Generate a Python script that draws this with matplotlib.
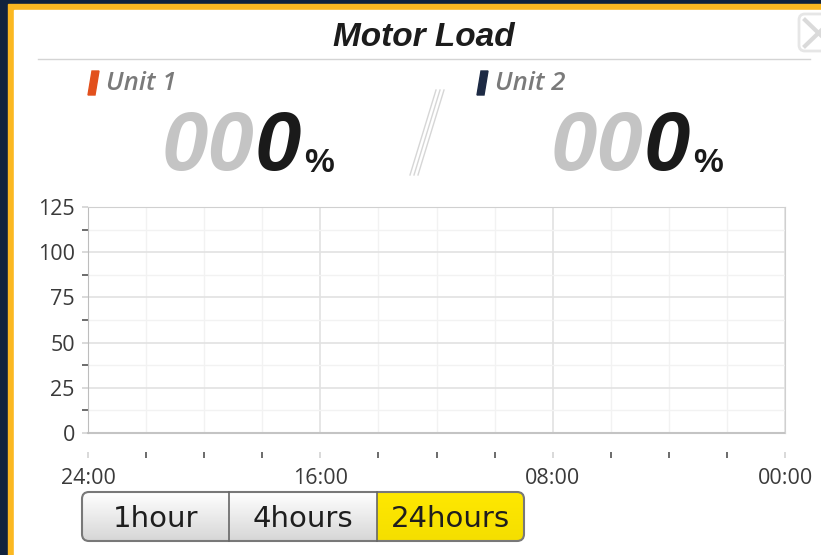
import numpy as np
import matplotlib
matplotlib.use("Agg")
import matplotlib.pyplot as plt
from matplotlib import font_manager as fm
from matplotlib.patches import Rectangle, FancyBboxPatch, Polygon

# ---- data ----
title = "Motor Load"
unit_names = ["Unit 1", "Unit 2"]
unit_values = [0, 0]          # current load, %
unit_colors = ["#e2501d", "#1d2a44"]
unit1_load = []               # no samples in the chart
unit2_load = []
unit_hours = []
y_major = [0, 25, 50, 75, 100, 125]
y_minor = [12.5, 37.5, 62.5, 87.5, 112.5]
x_major = [24, 16, 8, 0]
x_minor = [22, 20, 18, 14, 12, 10, 6, 4, 2]
x_labels = ["24:00", "16:00", "08:00", "00:00"]
buttons = ["1hour", "4hours", "24hours"]
selected = 2

names = {f.name for f in fm.fontManager.ttflist}
narrow = "Liberation Sans Narrow" if "Liberation Sans Narrow" in names else "DejaVu Sans"
head = "Liberation Sans" if "Liberation Sans" in names else "DejaVu Sans"
tick_font = "Open Sans" if "Open Sans" in names else "DejaVu Sans"

W, H = 821, 555
fig = plt.figure(figsize=(W / 100, H / 100), dpi=100)
fig.patch.set_facecolor("#10223d")

# background / frame drawn in pixel coords
bg = fig.add_axes([0, 0, 1, 1])
bg.set_xlim(0, W)
bg.set_ylim(H, 0)
bg.axis("off")
bg.add_patch(Rectangle((8, 4), W + 20, H + 20, color="#fbb821"))
bg.add_patch(Rectangle((14, 10), W + 20, H + 20, color="white"))

bg.text(424, 37, title, ha="center", va="center", fontsize=24,
        fontweight="bold", fontstyle="italic", family=head, color="#1c1c1c")
bg.plot([38, 810], [59, 59], color="#d4d4d4", lw=1)

# close button
bg.add_patch(FancyBboxPatch((799, 14), 40, 37, boxstyle="round,pad=0,rounding_size=6",
                            fc="white", ec="#e6e6e6", lw=2))
bg.plot([805, 832], [20, 46], color="#dadada", lw=3)
bg.plot([805, 832], [46, 20], color="#dadada", lw=3)

# unit headers
for i, (nm, val, col) in enumerate(zip(unit_names, unit_values, unit_colors)):
    x0 = 88 + i * 389
    bg.add_patch(Polygon([(x0, 95), (x0 + 7, 95), (x0 + 11, 71), (x0 + 4, 71)],
                         closed=True, color=col))
    bg.text(x0 + 18, 84, nm, ha="left", va="center", fontsize=18.5, fontstyle="italic",
            fontweight="semibold", family=tick_font, color="#7a7a7a")
    s = "%03d" % val
    nsig = len(str(val))
    t1 = bg.text(x0 + 74, 170, s[:-nsig], ha="left", va="baseline", fontsize=60,
                 fontweight="bold", fontstyle="italic", family=head, color="#c4c4c4")
    t2 = bg.annotate(s[-nsig:], xy=(1, 0), xycoords=t1, ha="left", va="bottom",
                     fontsize=60, fontweight="bold", fontstyle="italic", family=head,
                     color="#1a1a1a")
    bg.annotate("%", xy=(1, 0), xycoords=t2, xytext=(3, 8), textcoords="offset pixels",
                ha="left", va="bottom", fontsize=24, fontweight="bold", family=head,
                color="#1a1a1a")

# separator slash
for dx in (0, 4, 8):
    bg.plot([436 + dx, 410 + dx], [90, 175], color="#d6d6d6", lw=1)

# ---- chart ----
ax = fig.add_axes([88 / W, (H - 433) / H, 697 / W, 226 / H])
ax.plot(unit_hours, unit1_load, color=unit_colors[0], lw=2)
ax.plot(unit_hours, unit2_load, color=unit_colors[1], lw=2)
ax.set_xlim(24, 0)
ax.set_ylim(0, 125)
ax.set_xticks(x_major)
ax.set_xticks(x_minor, minor=True)
ax.set_xticklabels(x_labels)
ax.set_yticks(y_major)
ax.set_yticks(y_minor, minor=True)

ax.grid(which="major", color="#e2e2e2", lw=1.2)
ax.grid(which="minor", color="#f2f2f2", lw=1)
ax.set_axisbelow(True)
for side in ["top", "right"]:
    ax.spines[side].set_color("#d0d0d0")
ax.spines["left"].set_color("#bdbdbd")
ax.spines["bottom"].set_position(("outward", 13.5))
ax.spines["bottom"].set_visible(False)
ax.axhline(0, color="#c4c4c4", lw=1.5, clip_on=False)

ax.tick_params(axis="both", which="major", length=4.5, width=1.1, color="#d0d0d0",
               labelsize=15.5, labelcolor="#3a3a3a")
ax.tick_params(axis="both", which="minor", length=4.5, width=1.1, color="#444444")
ax.tick_params(axis="y", which="both", pad=5)
ax.tick_params(axis="x", which="both", direction="out", pad=7)
for lab in ax.get_xticklabels() + ax.get_yticklabels():
    lab.set_family(tick_font)

# ---- range buttons ----
bx0, bx1, by0, by1 = 82, 524, 492, 541
seg = (bx1 - bx0) / len(buttons)
hgt = by1 - by0
img = np.ones((hgt, bx1 - bx0, 3))
shade = np.linspace(1.0, 0.84, hgt)[:, None]
img[:, :, :] = shade[:, :, None]
cols = np.arange(bx1 - bx0)
sel = (cols >= selected * seg) & (cols < (selected + 1) * seg)
yel = np.array([1.0, 0.91, 0.0])
img[:, sel, :] = yel * np.linspace(1.0, 0.96, hgt)[:, None, None]
frame = FancyBboxPatch((bx0, by0), bx1 - bx0, hgt, boxstyle="round,pad=0,rounding_size=7",
                       fc="none", ec="#787878", lw=1.5)
bg.add_patch(frame)
im = bg.imshow(img, extent=(bx0, bx1, by1, by0), origin="upper", aspect="auto", zorder=1)
im.set_clip_path(frame)
frame.set_zorder(2)
for k, lab in enumerate(buttons):
    if k > 0:
        bg.plot([bx0 + k * seg] * 2, [by0, by1], color="#666666", lw=1.2, zorder=3)
    bg.text(bx0 + (k + 0.5) * seg, 519, lab, ha="center", va="center", fontsize=21,
            family=narrow, color="#1e1e1e", zorder=4)
bg.set_xlim(0, W)
bg.set_ylim(H, 0)

fig.savefig("out.png", dpi=100, facecolor=fig.get_facecolor())
